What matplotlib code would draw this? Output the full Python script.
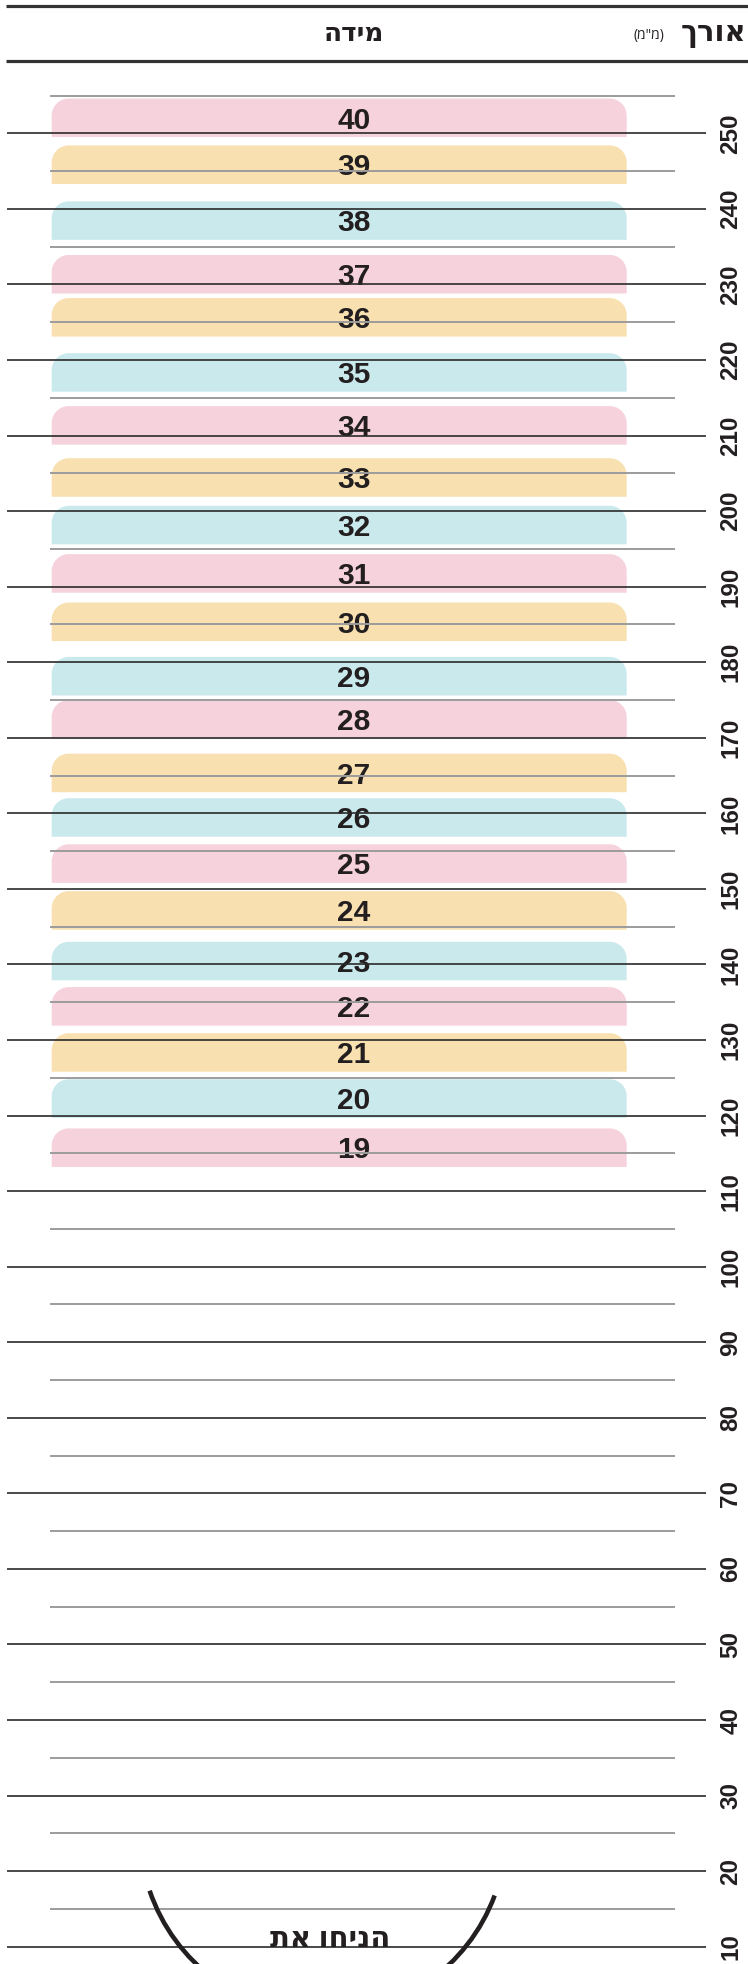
import numpy as np
import matplotlib
matplotlib.use("Agg")
import matplotlib.pyplot as plt
from matplotlib.patches import Polygon, Arc
from matplotlib.transforms import offset_copy

# ---------------- data ----------------
sizes = [40, 39, 38, 37, 36, 35, 34, 33, 32, 31, 30, 29, 28, 27, 26, 25, 24, 23, 22, 21, 20, 19]
# top of each size band (foot length, mm)
size_top_mm = [254.6, 248.4, 241.0, 233.9, 228.2, 220.9, 213.9, 207.0, 200.7, 194.3, 187.9,
               180.7, 175.0, 167.9, 162.0, 155.9, 149.7, 143.0, 137.0, 130.9, 124.8, 118.3]
band_height_mm = 5.1
major_ticks = [10, 20, 30, 40, 50, 60, 70, 80, 90, 100, 110, 120, 130, 140, 150, 160, 170,
               180, 190, 200, 210, 220, 230, 240, 250]
major_labels = [str(v) for v in major_ticks]
minor_ticks = [15, 25, 35, 45, 55, 65, 75, 85, 95, 105, 115, 125, 135, 145, 155, 165, 175,
               185, 195, 205, 215, 225, 235, 245, 255]
band_colors = ["#F6D2DC", "#F8E0B0", "#C9E9EC"]

title_size = "מידה"
title_length = "אורך"
title_unit = '(מ"מ)'
foot_text = "הניחו את"

# ---------------- layout ----------------
W, H = 748, 1964
PX_PER_MM = 7.5558
Y10_PX = 1946.7  # pixel row (from top) of the 10 mm line

FONT = ["Liberation Sans", "DejaVu Sans"]
HEB = ["Open Sans", "DejaVu Sans"]
DARK = "#231F20"

def vis(s):
    # matplotlib renders left to right; reverse Hebrew for visual order
    return s[::-1]

fig = plt.figure(figsize=(W / 100, H / 100), dpi=100)
ax = fig.add_axes([0, 0, 1, 1])
ax.set_xlim(0, W)
ax.set_ylim(10 - (H - Y10_PX) / PX_PER_MM, 10 + Y10_PX / PX_PER_MM)
ax.axis("off")

# bands with rounded top corners
BX0, BX1 = 51.7, 626.7
R_PX = 17.0
r_mm = R_PX / PX_PER_MM

def rounded_top(x0, x1, ybot, ytop):
    t = np.linspace(0, np.pi / 2, 12)
    pts = [(x0, ybot)]
    for a in t:
        pts.append((x0 + R_PX - R_PX * np.cos(a), ytop - r_mm + r_mm * np.sin(a)))
    for a in t[::-1]:
        pts.append((x1 - R_PX + R_PX * np.cos(a), ytop - r_mm + r_mm * np.sin(a)))
    pts.append((x1, ybot))
    return pts

for i, (s, top) in enumerate(zip(sizes, size_top_mm)):
    col = band_colors[i % 3]
    poly = Polygon(rounded_top(BX0, BX1, top - band_height_mm, top), closed=True,
                   facecolor=col, edgecolor="none", zorder=1)
    ax.add_patch(poly)
    cap_px = 21.5
    tr = offset_copy(ax.transData, fig=fig, x=0, y=-cap_px / 2, units="dots")
    ax.text(354, top - band_height_mm / 2, str(s), transform=tr, ha="center", va="baseline",
            fontsize=21.5, fontweight="bold", family=FONT, color=DARK, zorder=2)

# scale lines
ax.hlines(minor_ticks, 50, 675, colors="#9C9C9C", linewidth=1.4, zorder=3)
ax.hlines(major_ticks, 7, 706, colors="#2A2A2A", linewidth=1.2, zorder=4)
for v, lab in zip(major_labels and major_ticks, major_labels):
    ax.text(731, v, lab, rotation=90, ha="center", va="center", fontsize=17.5,
            fontweight="bold", family=FONT, color=DARK, zorder=5)

# ---------------- overlay in pixel coordinates ----------------
ov = fig.add_axes([0, 0, 1, 1], facecolor="none")
ov.set_xlim(0, W)
ov.set_ylim(H, 0)
ov.axis("off")

ov.hlines([5.5, 61.3], 6, W, colors="#333333", linewidth=2.3)
ov.text(354, 33, vis(title_size), ha="center", va="center", fontsize=19,
        fontweight="bold", family=HEB, color=DARK)
ov.text(746, 33, vis(title_length), ha="right", va="center", fontsize=21,
        fontweight="bold", family=HEB, color=DARK)
ov.text(664, 35, title_unit, ha="right", va="center", fontsize=10,
        family=HEB, color=DARK)

# heel outline
arc = Arc((323, 1832), 2 * 183, 2 * 183, theta1=20.3, theta2=161.3,
          color=DARK, linewidth=3.3)
ov.add_patch(arc)
ov.text(330, 1947, vis(foot_text), ha="center", va="baseline", fontsize=21,
        fontweight="bold", family=HEB, color=DARK, zorder=1)

fig.savefig("out.png", dpi=100)
